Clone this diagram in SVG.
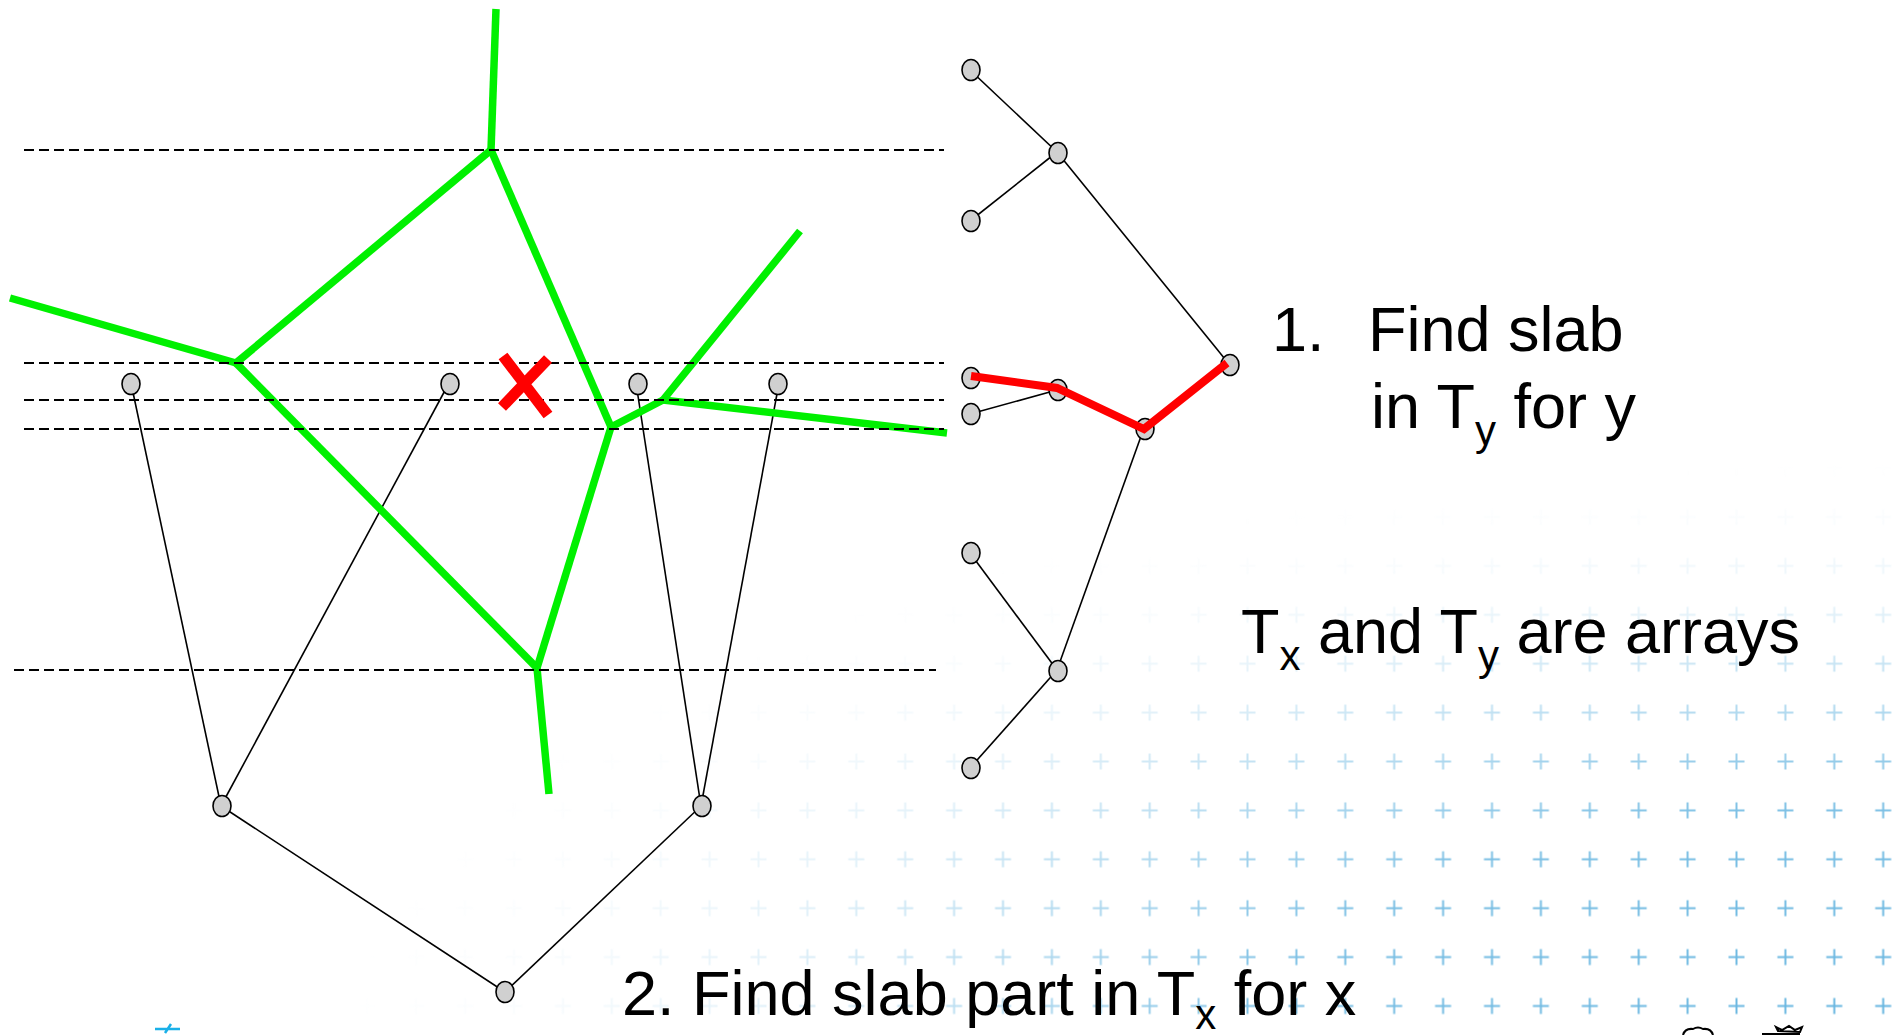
<svg xmlns="http://www.w3.org/2000/svg" width="1897" height="1035" viewBox="0 0 1897 1035">
  <style>
    .dash { stroke: #000; stroke-width: 2; stroke-dasharray: 10 5; fill: none; }
    .green { stroke: #00f000; stroke-width: 7.5; fill: none; stroke-linecap: butt; stroke-linejoin: miter; }
    .edge { stroke: #000; stroke-width: 1.6; fill: none; }
    .node { fill: #d0d0d0; stroke: #000; stroke-width: 1.6; }
    .red { stroke: #ff0000; fill: none; }
    .txt { font-family: "Liberation Sans", Arial, sans-serif; font-size: 63px; fill: #000; }
    .sub { font-size: 42px; }
  </style>
  <defs>
    <pattern id="plus" patternUnits="userSpaceOnUse" x="0.55" y="3.55" width="48.9" height="48.9">
      <path d="M16.45 24.45 H32.45 M24.45 16.45 V32.45" stroke="#66b5e0" stroke-width="2" fill="none"/>
    </pattern>
    <radialGradient id="fade" gradientUnits="userSpaceOnUse" cx="1897" cy="1035" r="1550" gradientTransform="translate(1897 1035) scale(1 0.37) translate(-1897 -1035)">
      <stop offset="0" stop-color="#fff" stop-opacity="1"/>
      <stop offset="0.4" stop-color="#fff" stop-opacity="0.85"/>
      <stop offset="0.6" stop-color="#fff" stop-opacity="0.45"/>
      <stop offset="0.75" stop-color="#fff" stop-opacity="0.17"/>
      <stop offset="0.88" stop-color="#fff" stop-opacity="0.04"/>
      <stop offset="1" stop-color="#fff" stop-opacity="0"/>
    </radialGradient>
    <mask id="fadeMask" maskUnits="userSpaceOnUse" x="0" y="0" width="1897" height="1035">
      <rect x="0" y="0" width="1897" height="1035" fill="url(#fade)"/>
    </mask>
  </defs>

  <rect x="0" y="0" width="1897" height="1035" fill="#fff"/>
  <g id="background">
    <rect x="0" y="0" width="1897" height="1035" fill="url(#plus)" mask="url(#fadeMask)"/>
    <path d="M155 1029 H180 M171 1024 L165 1033" stroke="#1ab0e8" stroke-width="2.5" fill="none"/>
    <path d="M1683 1035 q2 -7 10 -6 q5 -3 10 0 q8 -1 10 6" stroke="#000" stroke-width="2" fill="none"/>
    <path d="M1762 1034 H1800 M1778 1031 L1776 1027 L1782 1030 L1789 1026 L1795 1030 L1802 1027 L1800 1032 Z" stroke="#000" stroke-width="2" fill="none"/>
  </g>

  <g id="connectors">
    <!-- left tree (Tx) -->
    <line class="edge" x1="131" y1="383" x2="221" y2="806"/>
    <line class="edge" x1="449" y1="383" x2="221" y2="806"/>
    <line class="edge" x1="636" y1="383" x2="701" y2="806"/>
    <line class="edge" x1="779" y1="383" x2="701" y2="806"/>
    <line class="edge" x1="221" y1="806" x2="505" y2="992" stroke-width="2.2"/>
    <line class="edge" x1="701" y1="806" x2="505" y2="992"/>
    <!-- right tree (Ty) -->
    <line class="edge" x1="970" y1="70" x2="1057" y2="152"/>
    <line class="edge" x1="970" y1="221" x2="1057" y2="152"/>
    <line class="edge" x1="1057" y1="152" x2="1229" y2="364"/>
    <line class="edge" x1="970" y1="414" x2="1057" y2="390"/>
    <line class="edge" x1="970" y1="377" x2="1057" y2="390"/>
    <line class="edge" x1="1144" y1="428" x2="1057" y2="670"/>
    <line class="edge" x1="970" y1="553" x2="1057" y2="670"/>
    <line class="edge" x1="970" y1="768" x2="1057" y2="670"/>
  </g>

  <g id="voronoi">
    <line class="green" x1="496" y1="9" x2="491" y2="150"/>
    <line class="green" x1="491" y1="150" x2="236" y2="363"/>
    <line class="green" x1="491" y1="150" x2="611" y2="427"/>
    <line class="green" x1="10" y1="298" x2="236" y2="363" stroke-width="10"/>
    <line class="green" x1="236" y1="363" x2="537" y2="668" stroke-width="9"/>
    <line class="green" x1="537" y1="668" x2="611" y2="427"/>
    <line class="green" x1="537" y1="668" x2="549" y2="794"/>
    <line class="green" x1="611" y1="427" x2="663" y2="400"/>
    <line class="green" x1="663" y1="400" x2="800" y2="231"/>
    <line class="green" x1="663" y1="400" x2="947" y2="433" stroke-width="10"/>
  </g>

  <g id="slabs">
    <line class="dash" x1="24" y1="150" x2="944" y2="150"/>
    <line class="dash" x1="24" y1="363" x2="944" y2="363"/>
    <line class="dash" x1="24" y1="400" x2="944" y2="400"/>
    <line class="dash" x1="24" y1="429" x2="944" y2="429"/>
    <line class="dash" x1="14" y1="670" x2="936" y2="670"/>
  </g>

  <g id="query-point">
    <path class="red" d="M503 356 L548 415 M548 359 L502 407" stroke-width="11"/>
  </g>

  <g id="tx-nodes">
    <ellipse id="tx-leaf1" class="node" cx="131" cy="384" rx="9" ry="10.5"/>
    <ellipse id="tx-leaf2" class="node" cx="450" cy="384" rx="9" ry="10.5"/>
    <ellipse id="tx-leaf3" class="node" cx="638" cy="384" rx="9" ry="10.5"/>
    <ellipse id="tx-leaf4" class="node" cx="778" cy="384" rx="9" ry="10.5"/>
    <ellipse id="tx-mid1" class="node" cx="222" cy="806" rx="9" ry="10.5"/>
    <ellipse id="tx-mid2" class="node" cx="702" cy="806" rx="9" ry="10.5"/>
    <ellipse id="tx-root" class="node" cx="505" cy="992" rx="9" ry="10.5"/>
  </g>

  <g id="ty-nodes">
    <ellipse id="ty-n1" class="node" cx="971" cy="70" rx="9" ry="10.5"/>
    <ellipse id="ty-n2" class="node" cx="1058" cy="153" rx="9" ry="10.5"/>
    <ellipse id="ty-n3" class="node" cx="971" cy="221" rx="9" ry="10.5"/>
    <ellipse id="ty-n4" class="node" cx="1230" cy="365" rx="9" ry="10.5"/>
    <ellipse id="ty-n5" class="node" cx="971" cy="378" rx="9" ry="10.5"/>
    <ellipse id="ty-n6" class="node" cx="1058" cy="390" rx="9" ry="10.5"/>
    <ellipse id="ty-n7" class="node" cx="971" cy="414" rx="9" ry="10.5"/>
    <ellipse id="ty-n8" class="node" cx="1145" cy="429" rx="9" ry="10.5"/>
    <ellipse id="ty-n9" class="node" cx="971" cy="553" rx="9" ry="10.5"/>
    <ellipse id="ty-n10" class="node" cx="1058" cy="671" rx="9" ry="10.5"/>
    <ellipse id="ty-n11" class="node" cx="971" cy="768" rx="9" ry="10.5"/>
  </g>

  <g id="search-path">
    <polyline class="red" points="971,376 1057,388 1144,429 1227,363" stroke-width="8" stroke-linejoin="miter"/>
  </g>

  <g id="labels">
    <text class="txt" x="1272" y="351">1.</text>
    <text class="txt" x="1368" y="351">Find slab</text>
    <text class="txt" x="1371" y="428">in T<tspan class="sub" dy="17">y</tspan><tspan dy="-17"> for y</tspan></text>
    <text class="txt" x="1241" y="653">T<tspan class="sub" dy="17">x</tspan><tspan dy="-17"> and T</tspan><tspan class="sub" dy="17">y</tspan><tspan dy="-17"> are arrays</tspan></text>
    <text class="txt" x="622" y="1015">2. Find slab part in T<tspan class="sub" dy="14">x</tspan><tspan dy="-14"> for x</tspan></text>
  </g>
</svg>
